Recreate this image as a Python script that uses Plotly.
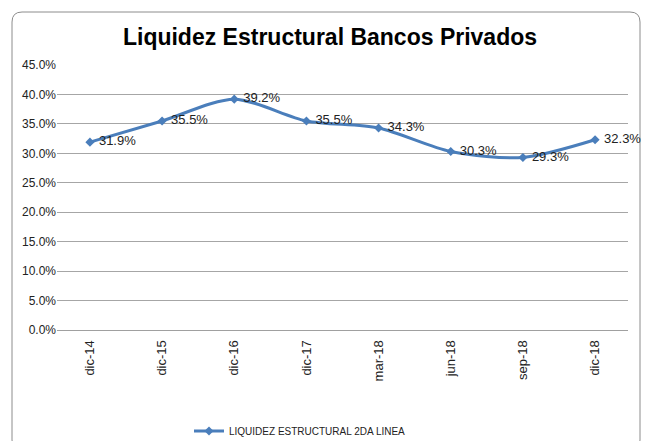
import plotly.graph_objects as go

# Data
categories = ["dic-14", "dic-15", "dic-16", "dic-17", "mar-18", "jun-18", "sep-18", "dic-18"]
liquidez = [0.319, 0.355, 0.392, 0.355, 0.343, 0.303, 0.293, 0.323]
y_ticks = [0, 0.05, 0.10, 0.15, 0.20, 0.25, 0.30, 0.35, 0.40, 0.45]

FONT = "Liberation Sans, Arial, sans-serif"
BLUE = "#4a7ebb"

# the page body adds an 8px offset, so work in page pixels minus that
OFF = 8
W, H = 651 - OFF, 441 - OFF
L, R, T, B = 57 - OFF, 651 - 628, 65 - OFF, 441 - 330
pw, ph = W - L - R, H - T - B


def px(x):
    return (x - OFF - L) / pw


def py(y):
    return (H - B - (y - OFF)) / ph


fig = go.Figure()

fig.add_trace(
    go.Scatter(
        x=categories,
        y=liquidez,
        mode="lines+markers+text",
        name="LIQUIDEZ ESTRUCTURAL 2DA LINEA",
        line=dict(color=BLUE, width=3, shape="spline", smoothing=0.8),
        marker=dict(symbol="diamond", size=7, color=BLUE),
        text=[f" {v * 100:.1f}%" for v in liquidez],
        textposition="middle right",
        textfont=dict(family=FONT, size=13, color="#222222"),
        cliponaxis=False,
    )
)

# rounded chart border
x0, x1 = px(12), px(640)
y0, y1 = py(450), py(12)
rx, ry = 10 / pw, 10 / ph
path = (
    f"M {x0 + rx},{y1} L {x1 - rx},{y1} Q {x1},{y1} {x1},{y1 - ry} "
    f"L {x1},{y0 + ry} Q {x1},{y0} {x1 - rx},{y0} "
    f"L {x0 + rx},{y0} Q {x0},{y0} {x0},{y0 + ry} "
    f"L {x0},{y1 - ry} Q {x0},{y1} {x0 + rx},{y1} Z"
)
fig.add_shape(type="path", path=path, xref="paper", yref="paper",
              line=dict(color="#8c8c8c", width=1), layer="below")

fig.update_layout(
    width=W,
    height=H,
    margin=dict(l=L, r=R, t=T, b=B, autoexpand=False),
    paper_bgcolor="white",
    plot_bgcolor="white",
    font=dict(family=FONT, size=12, color="#222222"),
    title=dict(
        text="<b>Liquidez Estructural Bancos Privados</b>",
        x=(330 - OFF) / W, xanchor="center",
        y=1 - (37 - OFF) / H, yanchor="middle",
        font=dict(family=FONT, size=23, color="black"),
    ),
    xaxis=dict(
        tickangle=-90,
        showgrid=False,
        showline=True,
        linecolor="#a0a0a0",
        ticks="outside",
        ticklen=4,
        tickcolor="rgba(0,0,0,0)",
        tickfont=dict(size=13),
        automargin=False,
        fixedrange=True,
    ),
    yaxis=dict(
        range=[0, 0.45],
        tickvals=y_ticks,
        tickformat=".1%",
        showgrid=True,
        gridcolor="#a6a6a6",
        gridwidth=1,
        zeroline=False,
        ticks="",
        tickfont=dict(size=12),
        automargin=False,
        fixedrange=True,
    ),
    showlegend=True,
    legend=dict(
        orientation="h",
        x=px(300), xanchor="center",
        y=py(431), yanchor="middle",
        font=dict(family=FONT, size=10),
        bgcolor="rgba(0,0,0,0)",
    ),
)

fig.write_html("out.html")
